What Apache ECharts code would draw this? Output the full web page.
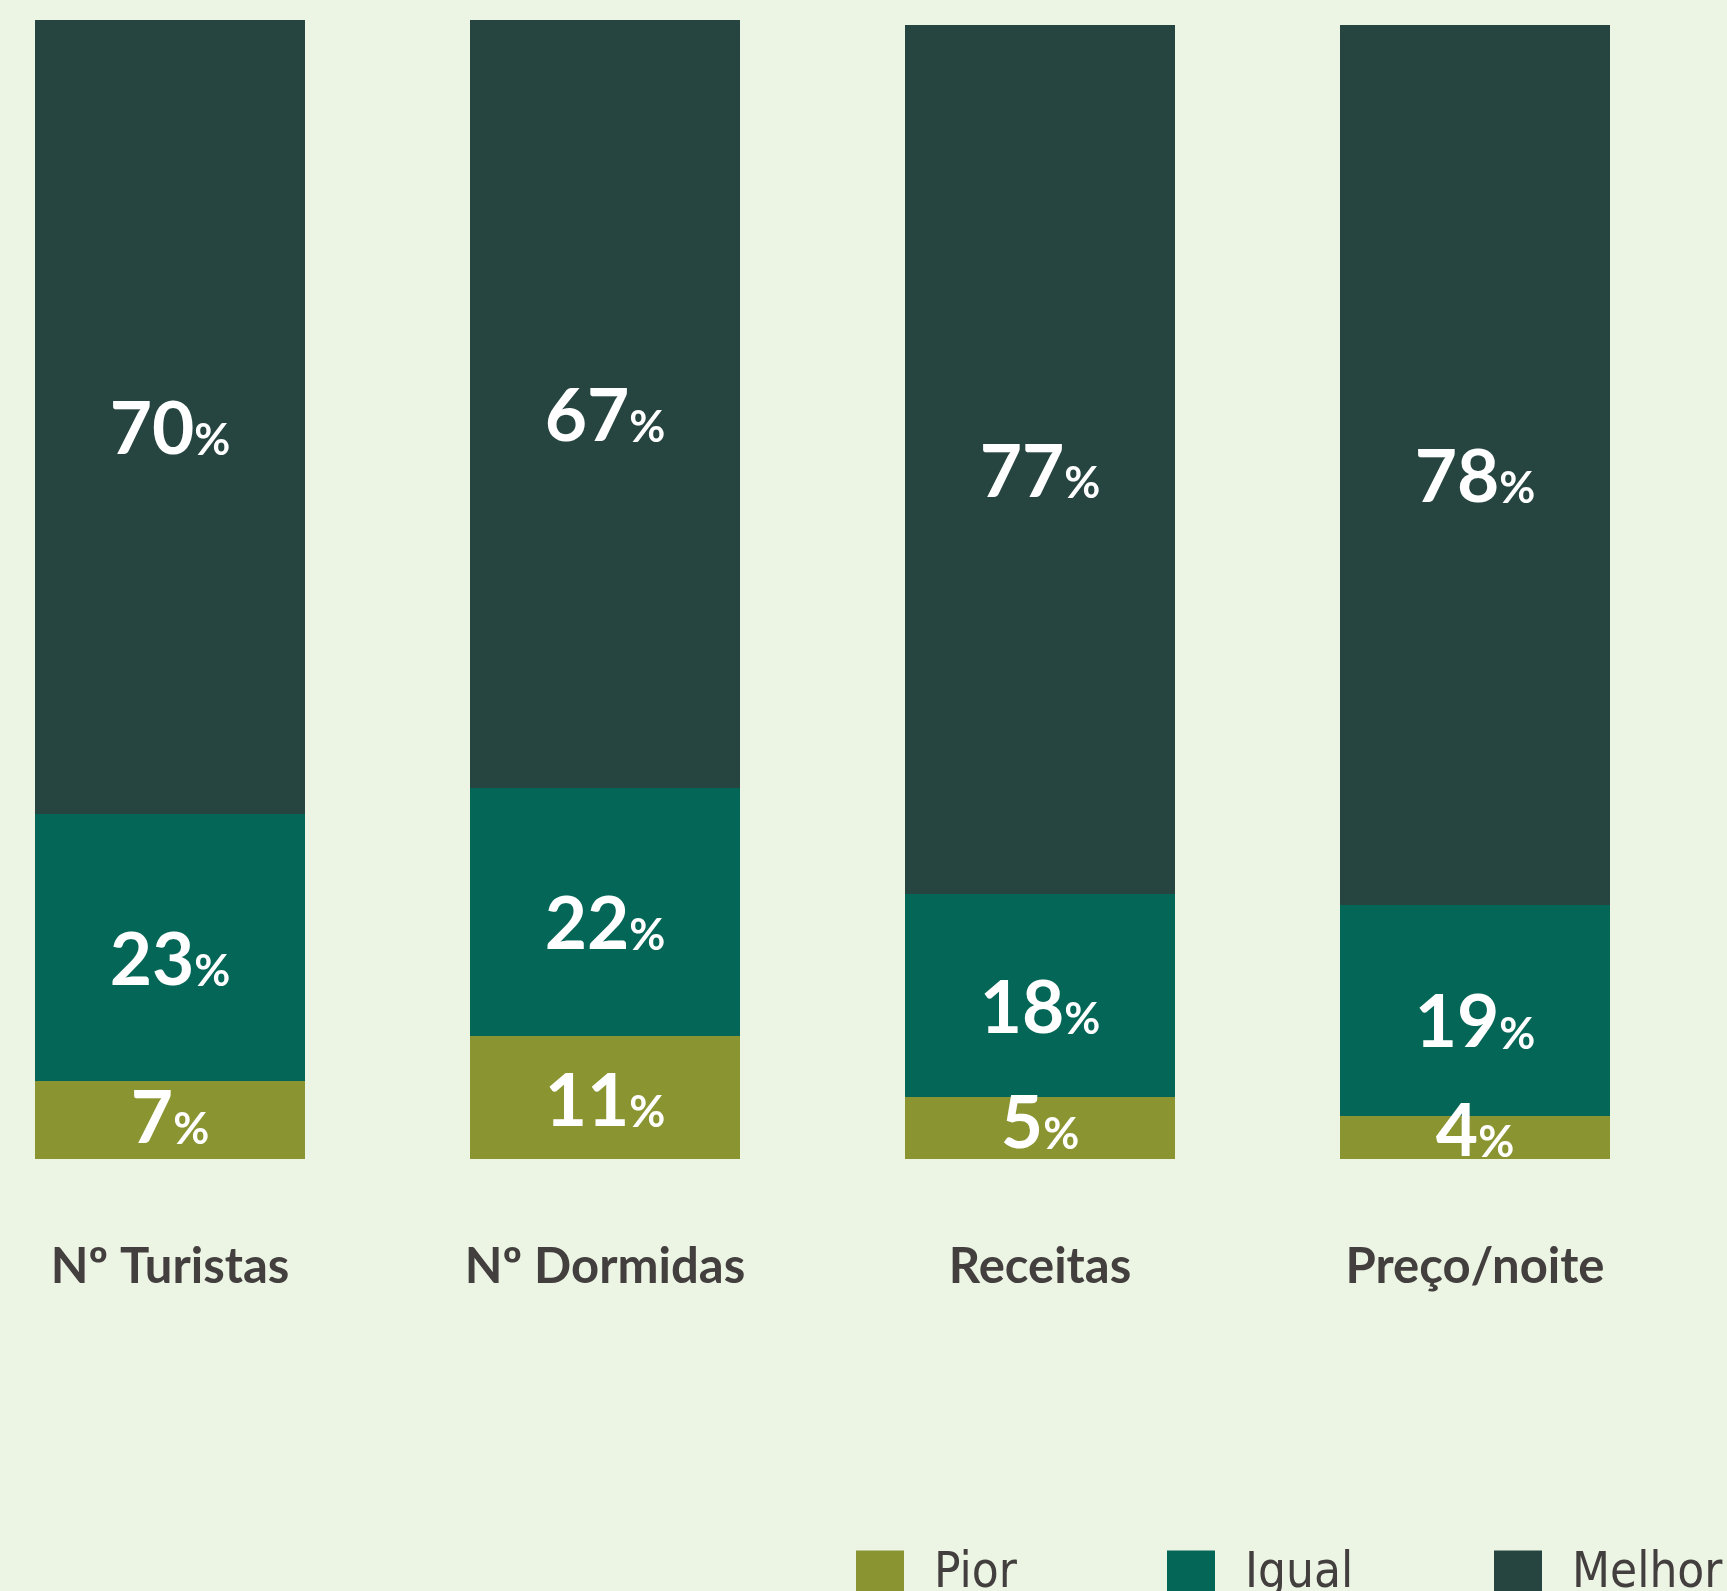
<!DOCTYPE html>
<html>
<head>
<meta charset="utf-8">
<script src="https://cdn.jsdelivr.net/npm/echarts@6/dist/echarts.min.js"></script>
<style>
html,body{margin:0;padding:0;background:#ecf5e4;}
#chart{width:1727px;height:1591px;}
</style>
</head>
<body>
<div id="chart"></div>
<script>
const categories = ['Nº Turistas', 'Nº Dormidas', 'Receitas', 'Preço/noite'];
const seriesNames = ['Pior', 'Igual', 'Melhor'];
const pior = [6.85, 10.8, 5.44, 3.78];
const igual = [23.44, 21.77, 17.82, 18.53];
const melhor = [69.71, 67.43, 76.3, 77.26];
const piorLabel = [7, 11, 5, 4];
const igualLabel = [23, 22, 18, 19];
const melhorLabel = [70, 67, 77, 78];

const colors = ['#8a9430', '#046656', '#264540'];
const textColor = '#433f3e';
const legendLeft = [856, 1167, 1494];
const piorLabelShift = [-4, 1, -7, -9];

function makeLabel(labels, offsetY) {
  return {
    show: true,
    position: 'inside',
    offset: [0, offsetY],
    formatter: p => '{n|' + labels[p.dataIndex] + '}{p|%}',
    rich: {
      n: { fontFamily: 'Lato', fontWeight: 'bold', fontSize: 73, color: '#ffffff', verticalAlign: 'bottom', lineHeight: 80 },
      p: { fontFamily: 'Lato', fontWeight: 'bold', fontSize: 44, color: '#ffffff', verticalAlign: 'bottom', lineHeight: 80, padding: [0, 0, 4, 0] }
    }
  };
}

const legends = seriesNames.map((name, i) => ({
  data: [name],
  left: legendLeft[i],
  top: 1550,
  padding: 0,
  icon: 'rect',
  itemWidth: 48,
  itemHeight: 48,
  textStyle: {
    fontFamily: '"DejaVu Sans Condensed", sans-serif',
    fontSize: 49,
    color: textColor,
    padding: [0, 0, 30, 25]
  }
}));

const chart = echarts.init(document.getElementById('chart'));
chart.setOption({
  backgroundColor: '#ecf5e4',
  animation: false,
  grid: { left: 170, width: 1305, top: 20, height: 1139 },
  legend: legends,
  xAxis: {
    type: 'category',
    data: categories,
    boundaryGap: false,
    axisLine: { show: false },
    axisTick: { show: false },
    splitLine: { show: false },
    axisLabel: { fontFamily: 'Lato', fontWeight: 'bold', fontSize: 49, color: textColor, margin: 84 }
  },
  yAxis: { type: 'value', min: 0, max: 100, show: false, splitLine: { show: false } },
  series: [
    {
      name: 'Pior', type: 'bar', stack: 's', barWidth: 270, clip: false,
      data: pior.map((v, i) => ({ value: v, label: { offset: [0, piorLabelShift[i]] } })),
      itemStyle: { color: colors[0] }, label: makeLabel(piorLabel, -7)
    },
    { name: 'Igual', type: 'bar', stack: 's', data: igual, barWidth: 270, clip: false, itemStyle: { color: colors[1] }, label: makeLabel(igualLabel, 10) },
    { name: 'Melhor', type: 'bar', stack: 's', data: melhor, barWidth: 270, clip: false, itemStyle: { color: colors[2] }, label: makeLabel(melhorLabel, 10) }
  ]
});
</script>
</body>
</html>
